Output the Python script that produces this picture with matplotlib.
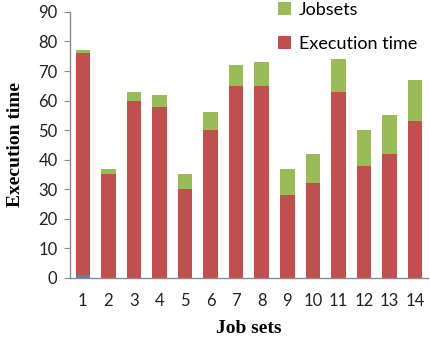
import matplotlib
matplotlib.use("Agg")
import matplotlib.pyplot as plt
import numpy as np

# data
job_sets = ['1', '2', '3', '4', '5', '6', '7', '8', '9', '10', '11', '12', '13', '14']
base_series = [1, 0, 0, 0, 0, 0, 0, 0, 0, 0, 0, 0, 0, 0]
execution_time = [75, 35, 60, 58, 30, 50, 65, 65, 28, 32, 63, 38, 42, 53]
jobsets = [1, 2, 3, 4, 5, 6, 7, 8, 9, 10, 11, 12, 13, 14]

BLUE = '#4F81BD'
RED = '#C0504D'
GREEN = '#9BBB59'

fig = plt.figure(figsize=(4.30, 3.41), dpi=100)
ax = fig.add_axes([0.163, 0.185, 0.832, 0.78])

x = np.arange(len(job_sets))
w = 0.57
base = np.array(base_series)
red = np.array(execution_time)
ax.bar(x, base, w, color=BLUE, zorder=2)
b_red = ax.bar(x, red, w, bottom=base, color=RED, label='Execution time', zorder=2)
b_green = ax.bar(x, jobsets, w, bottom=base + red, color=GREEN, label='Jobsets', zorder=2)

ax.set_xlim(-0.5, len(job_sets) - 0.5)
ax.set_ylim(0, 90)
ax.set_yticks(range(0, 91, 10))
ax.set_xticks(x)
ax.set_xticklabels(job_sets)

tick_font = 'Lato'
for lbl in ax.get_xticklabels() + ax.get_yticklabels():
    lbl.set_fontfamily(tick_font)
    lbl.set_fontsize(12)
    lbl.set_color('#222222')

for side in ['top', 'right']:
    ax.spines[side].set_visible(False)
for side in ['left', 'bottom']:
    ax.spines[side].set_color('#8a8a8a')
    ax.spines[side].set_linewidth(1.0)
ax.tick_params(axis='x', length=0, pad=11)
ax.tick_params(axis='y', length=4, color='#8a8a8a', pad=5)

ax.set_ylabel('Execution time', fontfamily='Liberation Serif', fontweight='bold', fontsize=14, labelpad=10)
ax.set_xlabel('Job sets', fontfamily='Liberation Serif', fontweight='bold', fontsize=14, labelpad=8)

leg = ax.legend(handles=[b_green, b_red], loc='upper left', bbox_to_anchor=(0.535, 1.1),
                frameon=False, prop={'family': tick_font, 'size': 13},
                handlelength=0.75, handleheight=0.75, handletextpad=0.4, labelspacing=1.0)

fig.savefig('out.png', dpi=100)
